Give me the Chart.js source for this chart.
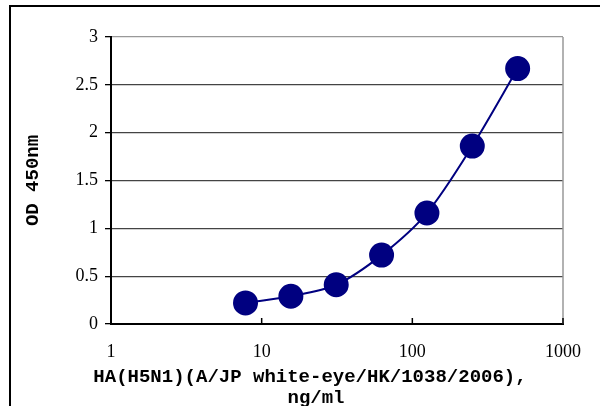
<!DOCTYPE html>
<html>
<head>
<meta charset="utf-8">
<script src="https://cdn.jsdelivr.net/npm/chart.js@4"></script>
<style>
  html, body { margin: 0; padding: 0; background: #fff; }
  #wrap { width: 600px; height: 406px; }
</style>
</head>
<body>
<div id="wrap"><canvas id="odChart" width="600" height="406"></canvas></div>
<script>
// HA(H5N1) standard curve, OD 450nm vs concentration
const concentrations = [7.8125, 15.625, 31.25, 62.5, 125, 250, 500];
const odValues = [0.22, 0.29, 0.41, 0.72, 1.16, 1.86, 2.67];
const xTickValues = [1, 10, 100, 1000];
const xTitleLines = ['HA(H5N1)(A/JP white-eye/HK/1038/2006),', 'ng/ml'];
const yTitle = 'OD 450nm';

const frameAndTitle = {
  id: 'frameAndTitle',
  beforeDraw(chart) {
    const ctx = chart.ctx;
    ctx.save();
    ctx.fillStyle = '#fff';
    ctx.fillRect(0, 0, chart.width, chart.height);
    ctx.strokeStyle = '#000';
    ctx.lineWidth = 2;
    ctx.beginPath();
    ctx.moveTo(10, chart.height + 5);
    ctx.lineTo(10, 6);
    ctx.lineTo(chart.width + 5, 6);
    ctx.stroke();
    ctx.restore();
  },
  afterDatasetsDraw(chart) {
    const { ctx, chartArea, scales } = chart;
    ctx.save();
    // right border of plot area
    ctx.strokeStyle = '#999';
    ctx.lineWidth = 1.5;
    ctx.beginPath();
    ctx.moveTo(chartArea.right, chartArea.top);
    ctx.lineTo(chartArea.right, chartArea.bottom);
    ctx.stroke();
    // inner tick marks on x axis
    ctx.strokeStyle = '#000';
    ctx.lineWidth = 1.5;
    xTickValues.forEach(v => {
      const x = scales.x.getPixelForValue(v);
      ctx.beginPath();
      ctx.moveTo(x, chartArea.bottom);
      ctx.lineTo(x, chartArea.bottom - 6);
      ctx.stroke();
    });
    // x axis title
    ctx.fillStyle = '#000';
    ctx.font = 'bold 19px "Liberation Mono"';
    ctx.textAlign = 'center';
    ctx.textBaseline = 'middle';
    ctx.fillText(xTitleLines[0], 310, 377);
    ctx.fillText(xTitleLines[1], 316, 398);
    ctx.restore();
  }
};

new Chart(document.getElementById('odChart'), {
  type: 'scatter',
  data: {
    datasets: [{
      data: concentrations.map((c, i) => ({ x: c, y: odValues[i] })),
      showLine: true,
      borderColor: '#000080',
      borderWidth: 2,
      backgroundColor: '#000080',
      pointRadius: 11.5,
      pointHoverRadius: 11.5,
      tension: 0.3
    }]
  },
  options: {
    responsive: false,
    animation: false,
    devicePixelRatio: 1,
    layout: { padding: { left: 0, top: 37, right: 37, bottom: 0 } },
    plugins: {
      legend: { display: false },
      tooltip: { enabled: false }
    },
    scales: {
      x: {
        type: 'logarithmic',
        min: 1,
        max: 1000,
        afterBuildTicks: scale => {
          scale.ticks = xTickValues.map(v => ({ value: v }));
        },
        afterFit: scale => { scale.height = 82; },
        grid: { display: false },
        border: { color: '#000', width: 2 },
        ticks: {
          color: '#000',
          padding: 9,
          font: { family: '"Liberation Serif"', size: 18 },
          callback: v => String(v)
        }
      },
      y: {
        min: 0,
        max: 3,
        afterFit: scale => { scale.width = 111; },
        border: { color: '#000', width: 2 },
        grid: {
          color: ctx => ctx.tick && ctx.tick.value === 3 ? '#999' : '#444',
          lineWidth: 1.3,
          tickLength: 6,
          tickColor: '#000'
        },
        ticks: {
          stepSize: 0.5,
          color: '#000',
          padding: 7,
          font: { family: '"Liberation Serif"', size: 18 },
          callback: v => String(v)
        },
        title: {
          display: true,
          text: yTitle,
          color: '#000',
          padding: { top: 22, bottom: 0 },
          font: { family: '"Liberation Mono"', size: 19, weight: 'bold' }
        }
      }
    }
  },
  plugins: [frameAndTitle]
});
</script>
</body>
</html>
